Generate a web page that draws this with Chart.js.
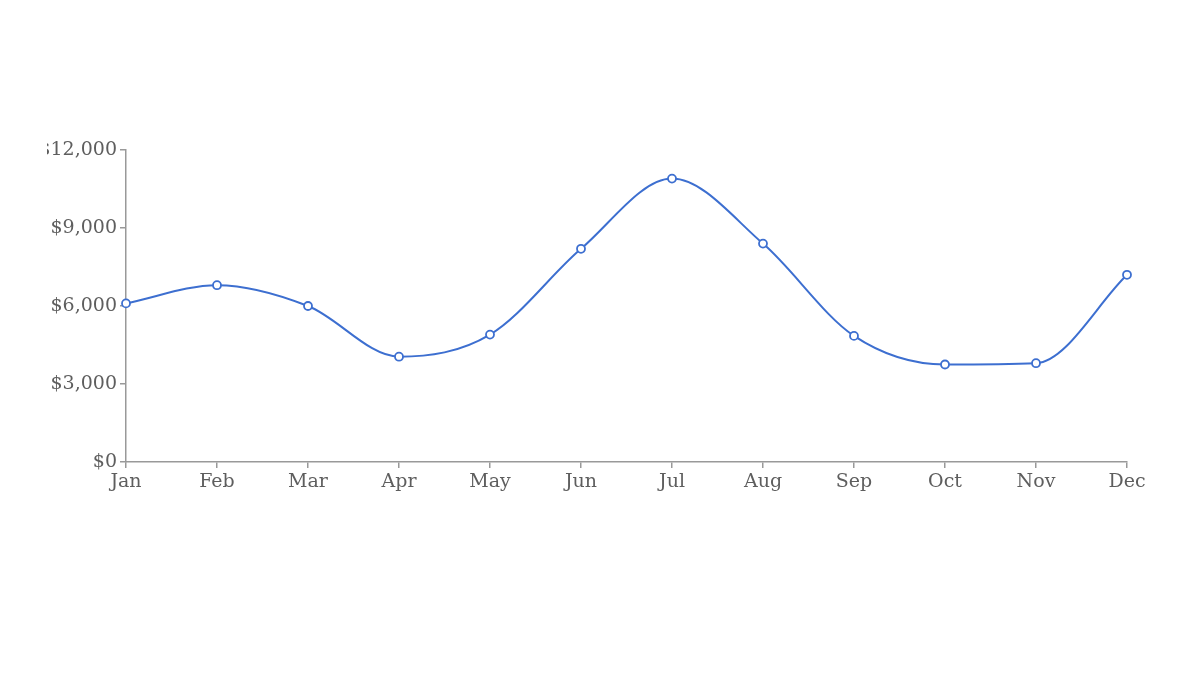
<!DOCTYPE html>
<html>
<head>
<meta charset="utf-8">
<script src="https://cdn.jsdelivr.net/npm/chart.js@4/dist/chart.umd.min.js"></script>
<style>
  html, body { margin: 0; padding: 0; background: #fff; overflow: hidden; }
  #wrap { position: absolute; left: 47px; top: 0; width: 1153px; height: 675px; }
</style>
</head>
<body>
<div id="wrap"><canvas id="chart"></canvas></div>
<script>
const months = ['Jan', 'Feb', 'Mar', 'Apr', 'May', 'Jun', 'Jul', 'Aug', 'Sep', 'Oct', 'Nov', 'Dec'];
const revenue = [6100, 6800, 6000, 4050, 4900, 8200, 10900, 8400, 4850, 3750, 3800, 7200];
const yTicks = [0, 3000, 6000, 9000, 12000];

const grey = '#999';
const textGrey = '#5e5e5e';
const blue = '#3d6fd0';

new Chart(document.getElementById('chart'), {
  type: 'line',
  data: {
    labels: months,
    datasets: [{
      data: revenue,
      borderColor: blue,
      borderWidth: 2,
      cubicInterpolationMode: 'monotone',
      fill: false,
      pointRadius: 4,
      pointBorderWidth: 1.8,
      pointBackgroundColor: '#fff',
      pointBorderColor: blue,
    }]
  },
  options: {
    responsive: true,
    maintainAspectRatio: false,
    animation: false,
    layout: { padding: { top: 150, right: 73, bottom: 173, left: 0 } },
    plugins: { legend: { display: false }, tooltip: { enabled: false } },
    scales: {
      x: {
        grid: { drawOnChartArea: false, color: grey, tickLength: 6, lineWidth: 1.5 },
        border: { color: grey, width: 1.5 },
        ticks: { color: textGrey, font: { family: 'DejaVu Serif', size: 19 }, padding: 3, maxRotation: 0 },
        afterFit: (s) => { s.height = 40; }
      },
      y: {
        min: 0,
        max: 12000,
        afterBuildTicks: (s) => { s.ticks = yTicks.map(v => ({ value: v })); },
        grid: { drawOnChartArea: false, color: grey, tickLength: 6, lineWidth: 1.5 },
        border: { color: grey, width: 1.5 },
        ticks: {
          color: textGrey,
          font: { family: 'DejaVu Serif', size: 19 },
          padding: 3,
          callback: (v) => '$' + v.toLocaleString('en-US')
        },
        afterFit: (s) => { s.width = 79; }
      }
    }
  }
});
</script>
</body>
</html>
